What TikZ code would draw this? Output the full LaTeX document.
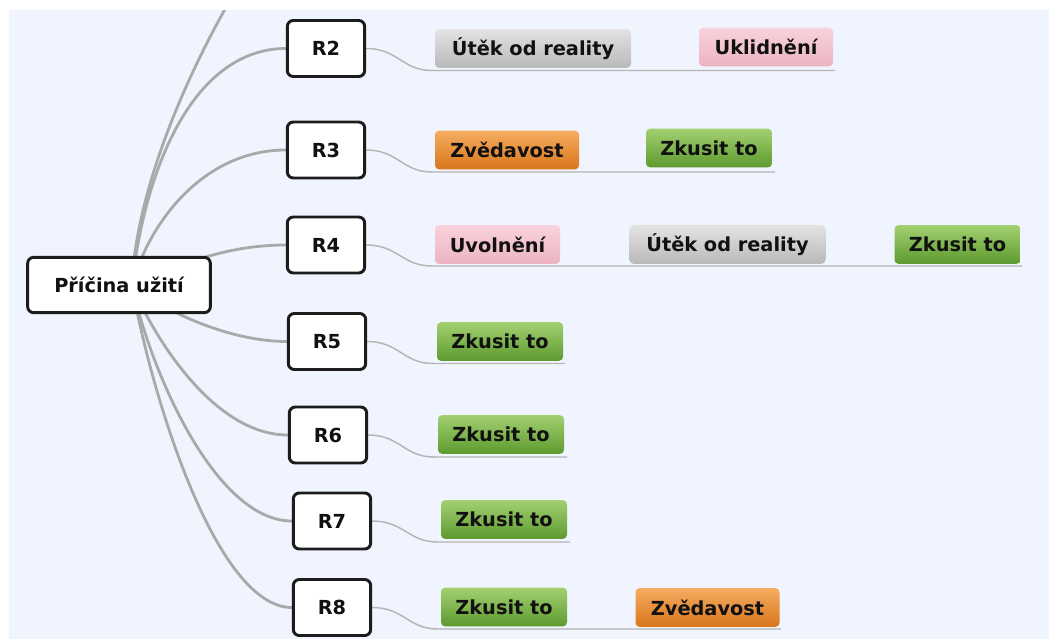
\documentclass[tikz,border=0pt]{standalone}
\usepackage{fontspec}
\setmainfont{DejaVu Sans}
\usetikzlibrary{shadows}
\definecolor{bgblue}{HTML}{F0F4FE}
\definecolor{branch}{HTML}{A9A9A9}
\definecolor{twig}{HTML}{B5B5B5}
\definecolor{frame}{HTML}{1C1C1C}
\definecolor{ink}{HTML}{111111}
\pgfdeclarelayer{back}
\pgfdeclarelayer{lines}
\pgfsetlayers{back,lines,main}
\tikzset{
  lbl/.style={font=\fontsize{14.5}{17}\selectfont\bfseries, text=ink, inner sep=0pt},
  topic/.style={lbl, draw=frame, line width=2.2pt, fill=white, rounded corners=4.5pt,
    drop shadow={opacity=0.25, shadow xshift=0.8pt, shadow yshift=-0.8pt}},
  rbox/.style={topic, minimum width=58pt, minimum height=42pt},
  leaf/.style={lbl, rounded corners=3pt, minimum height=29pt},
  grayleaf/.style={leaf, top color=gray!22!white, bottom color=gray!55!white},
  pinkleaf/.style={leaf, top color=HTML1, bottom color=HTML2},
  orangeleaf/.style={leaf, top color=or1, bottom color=or2},
  greenleaf/.style={leaf, top color=gr1, bottom color=gr2},
  rootline/.style={draw=branch, line width=2.1pt, line cap=round},
  twigline/.style={draw=twig, line width=1.1pt},
}
\definecolor{HTML1}{HTML}{F8D2DC}
\definecolor{HTML2}{HTML}{ECB4C2}
\definecolor{or1}{HTML}{F6AC60}
\definecolor{or2}{HTML}{D8761C}
\definecolor{gr1}{HTML}{A3D071}
\definecolor{gr2}{HTML}{5D9A2E}
\begin{document}
\begin{tikzpicture}[x=0.75pt,y=-0.75pt]
\useasboundingbox (0,0) rectangle (1049,639);
\begin{pgfonlayer}{back}
\fill[white] (0,0) rectangle (1049,639);
\fill[bgblue] (9,10) rectangle (1049,639);
\end{pgfonlayer}

% central topic and main topics
\node[topic, minimum width=137pt, minimum height=41.5pt] (root) at (119,285) {Příčina užití};
\node[rbox] (r2) at (326,48.5) {R2};
\node[rbox] (r3) at (326,150) {R3};
\node[rbox] (r4) at (326,245) {R4};
\node[rbox] (r5) at (327,341.5) {R5};
\node[rbox] (r6) at (328,435) {R6};
\node[rbox] (r7) at (332,521) {R7};
\node[rbox] (r8) at (332,607.5) {R8};

% leaves
\node[grayleaf, minimum width=147pt] (a1) at (533,48.5) {Útěk od reality};
\node[pinkleaf, minimum width=100.5pt] (a2) at (766,47) {Uklidnění};
\node[orangeleaf, minimum width=108pt] (b1) at (507,150) {Zvědavost};
\node[greenleaf, minimum width=94.5pt] (b2) at (709,148) {Zkusit to};
\node[pinkleaf, minimum width=93.75pt] (c1) at (497.5,244.5) {Uvolnění};
\node[grayleaf, minimum width=147pt] (c2) at (727.5,244.5) {Útěk od reality};
\node[greenleaf, minimum width=94.5pt] (c3) at (957.5,244.5) {Zkusit to};
\node[greenleaf, minimum width=94.5pt] (d1) at (500,341.5) {Zkusit to};
\node[greenleaf, minimum width=94.5pt] (e1) at (501,434.5) {Zkusit to};
\node[greenleaf, minimum width=94.5pt] (f1) at (504,519.5) {Zkusit to};
\node[greenleaf, minimum width=94.5pt] (g1) at (504,607) {Zkusit to};
\node[orangeleaf, minimum width=108pt] (g2) at (707.5,607.5) {Zvědavost};

% connector coordinates
\coordinate (hub) at (132,285);
\coordinate (r1end) at (248,-30);
\coordinate (s2) at (432,70.5);  \coordinate (t2) at (835,70.5);
\coordinate (s3) at (432,172);   \coordinate (t3) at (775,172);
\coordinate (s4) at (432,266);   \coordinate (t4) at (1022,266);
\coordinate (s5) at (433,363.5); \coordinate (t5) at (565,363.5);
\coordinate (s6) at (434,457);   \coordinate (t6) at (567,457);
\coordinate (s7) at (438,542);   \coordinate (t7) at (570,542);
\coordinate (s8) at (438,629);   \coordinate (t8) at (781,629);

\begin{pgfonlayer}{lines}
\begin{scope}
\clip (9,10) rectangle (1049,639);
\draw[rootline] (hub) .. controls (135,200) and (180,80) .. (r1end);
\draw[rootline] (hub) .. controls (145,165) and (195,48.5) .. (r2.west);
\draw[rootline] (hub) .. controls (150,220) and (205,150) .. (r3.west);
\draw[rootline] (hub) .. controls (185,262) and (230,245) .. (r4.west);
\draw[rootline] (hub) .. controls (165,312) and (230,341.5) .. (r5.west);
\draw[rootline] (hub) .. controls (155,340) and (215,435) .. (r6.west);
\draw[rootline] (hub) .. controls (150,370) and (215,521) .. (r7.west);
\draw[rootline] (hub) .. controls (150,390) and (215,607.5) .. (r8.west);
\end{scope}
\draw[twigline] (r2.east) .. controls +(32,0) and +(-30,0) .. (s2) -- (t2);
\draw[twigline] (r3.east) .. controls +(32,0) and +(-30,0) .. (s3) -- (t3);
\draw[twigline] (r4.east) .. controls +(32,0) and +(-30,0) .. (s4) -- (t4);
\draw[twigline] (r5.east) .. controls +(32,0) and +(-30,0) .. (s5) -- (t5);
\draw[twigline] (r6.east) .. controls +(32,0) and +(-30,0) .. (s6) -- (t6);
\draw[twigline] (r7.east) .. controls +(32,0) and +(-30,0) .. (s7) -- (t7);
\draw[twigline] (r8.east) .. controls +(32,0) and +(-30,0) .. (s8) -- (t8);
\end{pgfonlayer}
\end{tikzpicture}
\end{document}
